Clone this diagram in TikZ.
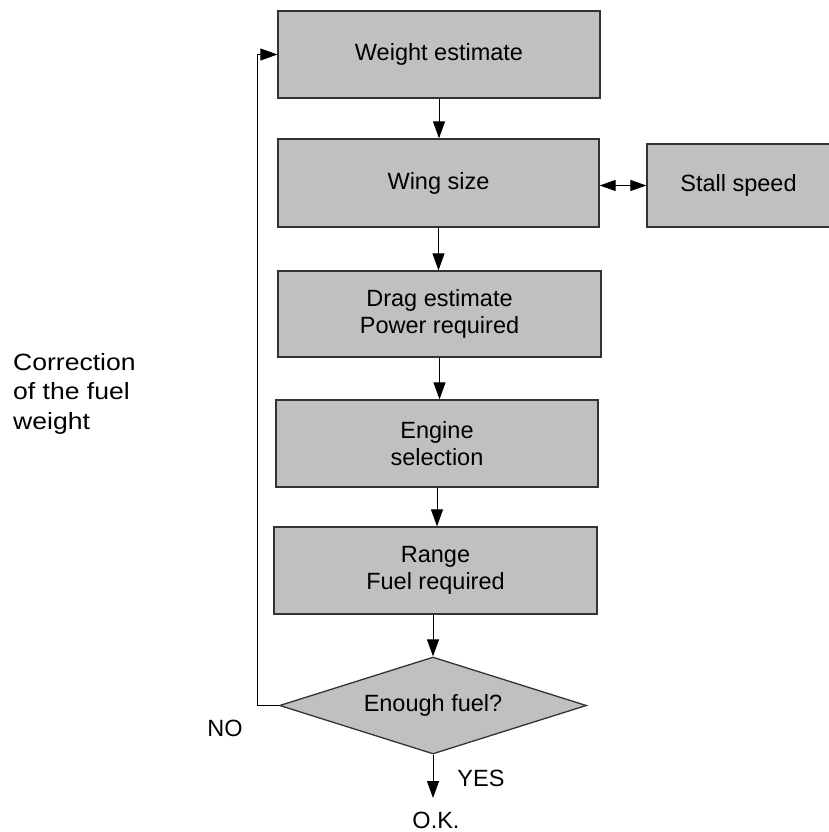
\documentclass[tikz,border=0pt]{standalone}
\usepackage{fontspec}
\setmainfont{Liberation Sans}
\newfontfamily\widefont[FakeStretch=1.13]{Liberation Sans}
\usetikzlibrary{arrows.meta,shapes.geometric}
\definecolor{boxfill}{HTML}{C0C0C0}
\definecolor{boxline}{HTML}{333333}
\begin{document}
\begin{tikzpicture}[x=1pt,y=1pt,
  every node/.style={font=\fontsize{23.5}{27}\selectfont},
  box/.style={draw=boxline,fill=boxfill,line width=1.3pt,minimum width=#1,inner sep=0pt,align=center,rectangle},
  arr/.style={line width=1pt,-{Triangle[length=17pt,width=12pt]}},
  darr/.style={line width=1pt,{Triangle[length=16pt,width=11pt]}-{Triangle[length=16pt,width=11pt]}},
  plain/.style={inner sep=0pt}]
\useasboundingbox (0,0) rectangle (828,-832);
\node[box=322pt,minimum height=87pt] (w) at (439,-54.5) {Weight estimate};
\node[box=321pt,minimum height=88pt] (ws) at (438.5,-183) {Wing size};
\node[box=183pt,minimum height=83pt] (st) at (738.5,-185.5) {Stall speed};
\node[box=323pt,minimum height=86pt] (d) at (439.5,-314) {Drag estimate\\Power required};
\node[box=322pt,minimum height=87pt] (e) at (437,-443.5) {Engine\\selection};
\node[box=323pt,minimum height=87pt] (r) at (435.5,-570.5) {Range\\Fuel required};
\node[draw=boxline,fill=boxfill,line width=1.3pt,diamond,shape aspect=3.165,minimum width=307pt,minimum height=97pt,inner sep=0pt] (f) at (433,-705.5) {Enough fuel?};
\node[plain,anchor=base] (ok) at (436,-828) {O.K.};
\node[plain] (yes) at (481,-778) {YES};
\node[plain] (no) at (225,-728) {NO};
\node[plain,anchor=base west,align=left,font=\widefont\fontsize{23.5}{29.5}\selectfont] (corr) at (13,-429) {Correction\\of the fuel\\weight};
\coordinate (okt) at (433,-798);
\coordinate (c1) at (257,-705.5);
\coordinate (c2) at (257,-54.5);
\draw[arr] (w.south) -- (w.south |- ws.north);
\draw[arr] (ws.south) -- (ws.south |- d.north);
\draw[arr] (d.south) -- (d.south |- e.north);
\draw[arr] (e.south) -- (e.south |- r.north);
\draw[arr] (r.south -| f.north) -- (f.north);
\draw[arr] (f.south) -- (okt);
\draw[darr] (ws.east |- st.west) -- (st.west);
\draw[arr] (f.west) -- (c1) -- (c2) -- (w.west);
\end{tikzpicture}
\end{document}
